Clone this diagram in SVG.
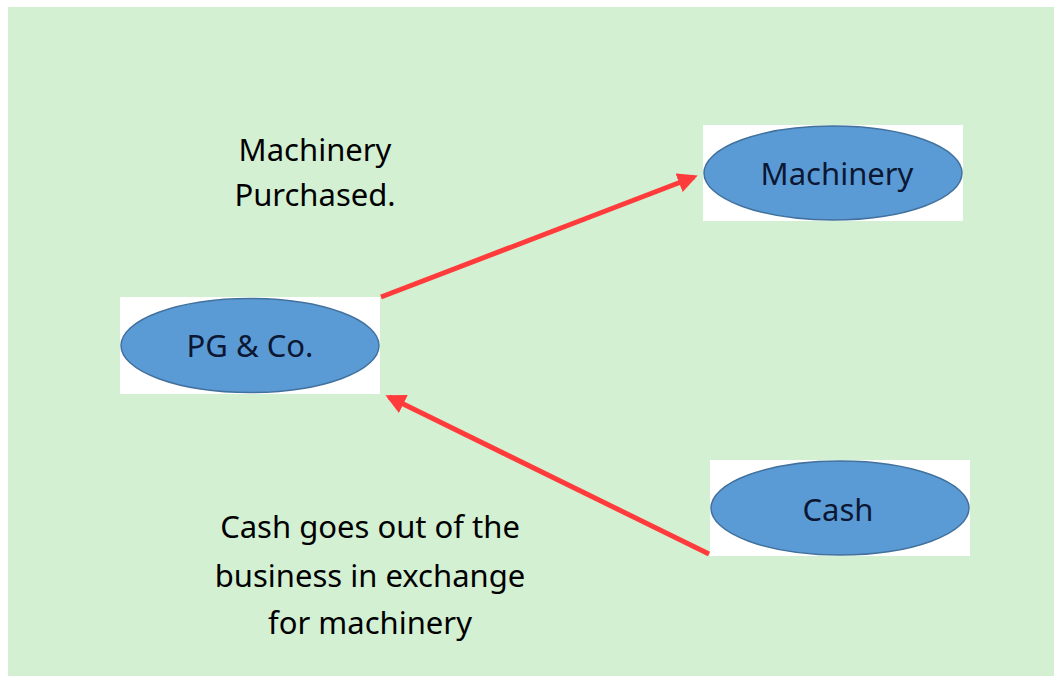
<svg xmlns="http://www.w3.org/2000/svg" width="1054" height="676" viewBox="0 0 1054 676">
<defs>
<style>
.node-bg{fill:#ffffff}
.node{fill:#5b9bd5;stroke:#41719c;stroke-width:1.5}
.ntxt{font-family:"Noto Sans","Open Sans",sans-serif;font-size:31px;fill:#0b1733;text-anchor:middle}
.lbl{font-family:"Noto Sans","Open Sans",sans-serif;font-size:31px;fill:#000000;text-anchor:middle}
.conn{stroke:#ff3b3b;stroke-width:5;fill:none;marker-end:url(#arr)}
</style>
<marker id="arr" markerWidth="4" markerHeight="4" refX="3.2" refY="2" orient="auto" markerUnits="strokeWidth">
<path d="M0,0 L4,2 L0,4 Z" fill="#ff3b3b"/>
</marker>
</defs>
<rect x="0" y="0" width="1054" height="676" fill="#ffffff"/>
<rect x="8" y="7" width="1046" height="669" fill="#d3f0d3"/>
<g id="label-purchased">
<text class="lbl" x="315" y="161">Machinery</text>
<text class="lbl" x="315" y="206">Purchased.</text>
</g>
<g id="label-cash">
<text class="lbl" x="370" y="538">Cash goes out of the</text>
<text class="lbl" x="370" y="587">business in exchange</text>
<text class="lbl" x="370" y="634">for machinery</text>
</g>
<g id="connectors">
<line class="conn" x1="381" y1="297" x2="694" y2="177"/>
<line class="conn" x1="709" y1="554" x2="389" y2="397"/>
</g>
<g id="node-pg">
<rect class="node-bg" x="120" y="297" width="260" height="97"/>
<ellipse class="node" cx="250" cy="345.5" rx="129" ry="47"/>
<text class="ntxt" x="250" y="357">PG &amp; Co.</text>
</g>
<g id="node-machinery">
<rect class="node-bg" x="703" y="125" width="260" height="96"/>
<ellipse class="node" cx="833" cy="173" rx="129" ry="47"/>
<text class="ntxt" x="837" y="185">Machinery</text>
</g>
<g id="node-cash">
<rect class="node-bg" x="710" y="460" width="260" height="96"/>
<ellipse class="node" cx="840" cy="508" rx="129" ry="47"/>
<text class="ntxt" x="838" y="521">Cash</text>
</g>
</svg>
